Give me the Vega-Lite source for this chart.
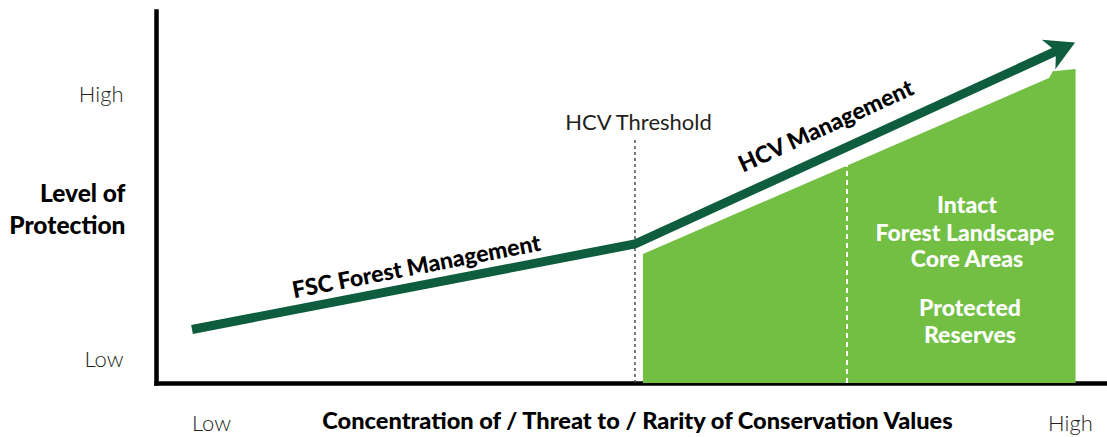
{
  "$schema": "https://vega.github.io/schema/vega-lite/v6.json",
  "width": 950,
  "height": 372,
  "autosize": {"type": "none"},
  "padding": {"left": 156, "top": 11, "right": 1, "bottom": 54},
  "background": "white",
  "config": {"view": {"stroke": null}, "font": "Lato"},
  "datasets": {
    "protection": [
      {"stage": "FSC start", "x": 3.79, "y": 14.38},
      {"stage": "HCV threshold", "x": 50.42, "y": 37.37},
      {"stage": "arrow end", "x": 95.2, "y": 89.73}
    ],
    "hcvArea": [
      {"x": 51.26, "y": 34.68},
      {"x": 94.0, "y": 81.99},
      {"x": 94.4, "y": 83.8},
      {"x": 96.8, "y": 84.4}
    ],
    "dividers": [
      {"name": "HCV Threshold", "x": 50.42, "y": 0, "y2": 66.13},
      {"name": "Core boundary", "x": 72.74, "y": 0, "y2": 59.68}
    ],
    "arrowTip": [{"x": 95.2, "y": 89.73}],
    "thresholdLabel": [{"label": "HCV Threshold", "x": 50.79, "y": 68.0}],
    "fscLabel": [{"label": "FSC Forest Management", "x": 27.58, "y": 29.22}],
    "hcvLabel": [{"label": "HCV Management", "x": 70.86, "y": 67.15}],
    "coreLabels": [
      {"label": "Intact", "x": 85.37, "y": 45.7},
      {"label": "Forest  Landscape", "x": 85.16, "y": 38.17},
      {"label": "Core Areas", "x": 85.37, "y": 31.18},
      {"label": "Protected", "x": 85.68, "y": 18.01},
      {"label": "Reserves", "x": 85.68, "y": 10.75}
    ]
  },
  "layer": [
    {
      "data": {"name": "hcvArea"},
      "mark": {"type": "area", "color": "#72bf44", "opacity": 1},
      "encoding": {
        "x": {
          "field": "x", "type": "quantitative",
          "scale": {"domain": [0, 100], "nice": false, "zero": false},
          "axis": {
            "values": [5.79, 96.2],
            "labelExpr": "datum.value < 50 ? 'Low' : 'High'",
            "ticks": false, "tickSize": 0, "grid": false,
            "domainColor": "black", "domainWidth": 4.5, "domainCap": "square",
            "labelFont": "Lato", "labelFontSize": 22, "labelFontWeight": 300, "labelColor": "#231f20",
            "labelBaseline": "alphabetic", "labelPadding": 47, "labelAlign": "center",
            "labelOverlap": false, "labelFlush": false,
            "title": "Concentration of / Threat to / Rarity of Conservation Values",
            "titleFont": "Lato", "titleFontWeight": 900, "titleFontSize": 23.6, "titleColor": "black",
            "titleX": 481, "titleY": 45, "titleBaseline": "alphabetic", "titleAlign": "center", "titleAnchor": null
          }
        },
        "y": {
          "field": "y", "type": "quantitative",
          "scale": {"domain": [0, 100], "nice": false, "zero": true},
          "axis": {
            "values": [4.38, 75.62],
            "labelExpr": "datum.value < 50 ? 'Low' : 'High'",
            "ticks": false, "tickSize": 0, "grid": false,
            "domainColor": "black", "domainWidth": 4.5, "domainCap": "square",
            "labelFont": "Lato", "labelFontSize": 22, "labelFontWeight": 300, "labelColor": "#231f20",
            "labelBaseline": "alphabetic", "labelPadding": 33, "labelAlign": "right",
            "labelOverlap": false, "labelFlush": false,
            "title": ["Level of", "Protection"],
            "titleFont": "Lato", "titleFontWeight": 900, "titleFontSize": 24.5, "titleColor": "black",
            "titleAngle": 0, "titleAlign": "right", "titleBaseline": "alphabetic",
            "titleX": -31, "titleY": 190.7, "titleLineHeight": 31.6
          }
        }
      }
    },
    {
      "data": {"name": "dividers"},
      "transform": [{"filter": "datum.name === 'HCV Threshold'"}],
      "mark": {"type": "rule", "color": "#333333", "strokeWidth": 1.3, "strokeDash": [3, 3]},
      "encoding": {
        "x": {"field": "x", "type": "quantitative"},
        "y": {"field": "y", "type": "quantitative"},
        "y2": {"field": "y2"}
      }
    },
    {
      "data": {"name": "dividers"},
      "transform": [{"filter": "datum.name === 'Core boundary'"}],
      "mark": {"type": "rule", "color": "white", "strokeWidth": 2, "strokeDash": [5, 4]},
      "encoding": {
        "x": {"field": "x", "type": "quantitative"},
        "y": {"field": "y", "type": "quantitative"},
        "y2": {"field": "y2"}
      }
    },
    {
      "data": {"name": "protection"},
      "mark": {"type": "line", "color": "#0f5d3f", "strokeWidth": 9, "strokeCap": "butt", "strokeJoin": "miter"},
      "encoding": {
        "x": {"field": "x", "type": "quantitative"},
        "y": {"field": "y", "type": "quantitative"}
      }
    },
    {
      "data": {"name": "arrowTip"},
      "mark": {"type": "point", "shape": "M1,0L-0.8,-1L-0.3,0L-0.8,1Z", "filled": true, "color": "#0f5d3f", "opacity": 1, "size": 1050, "angle": -24.6, "strokeWidth": 0},
      "encoding": {
        "x": {"field": "x", "type": "quantitative"},
        "y": {"field": "y", "type": "quantitative"}
      }
    },
    {
      "data": {"name": "thresholdLabel"},
      "mark": {"type": "text", "font": "Lato", "fontSize": 22, "fontWeight": 400, "color": "#231f20", "align": "center", "baseline": "alphabetic"},
      "encoding": {
        "x": {"field": "x", "type": "quantitative"},
        "y": {"field": "y", "type": "quantitative"},
        "text": {"field": "label"}
      }
    },
    {
      "data": {"name": "fscLabel"},
      "mark": {"type": "text", "font": "Lato", "fontSize": 23, "fontWeight": 900, "color": "black", "align": "center", "baseline": "alphabetic", "angle": -10.9},
      "encoding": {
        "x": {"field": "x", "type": "quantitative"},
        "y": {"field": "y", "type": "quantitative"},
        "text": {"field": "label"}
      }
    },
    {
      "data": {"name": "hcvLabel"},
      "mark": {"type": "text", "font": "Lato", "fontSize": 23, "fontWeight": 900, "color": "black", "align": "center", "baseline": "alphabetic", "angle": -24.6},
      "encoding": {
        "x": {"field": "x", "type": "quantitative"},
        "y": {"field": "y", "type": "quantitative"},
        "text": {"field": "label"}
      }
    },
    {
      "data": {"name": "coreLabels"},
      "mark": {"type": "text", "font": "Lato", "fontSize": 23, "fontWeight": 900, "color": "white", "align": "center", "baseline": "alphabetic"},
      "encoding": {
        "x": {"field": "x", "type": "quantitative"},
        "y": {"field": "y", "type": "quantitative"},
        "text": {"field": "label"}
      }
    }
  ]
}
